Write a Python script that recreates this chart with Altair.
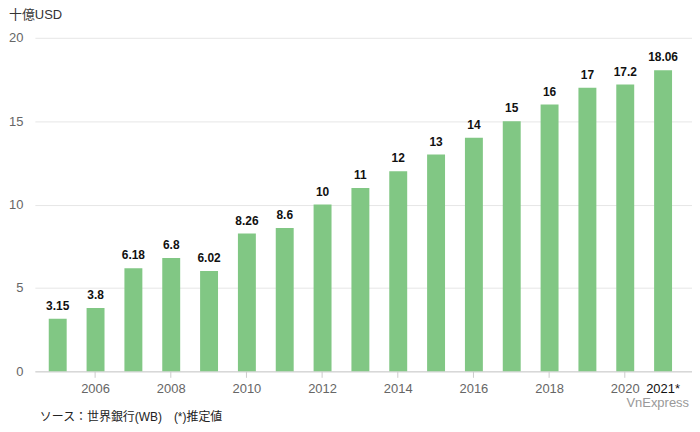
import altair as alt
import pandas as pd

years = [str(y) for y in range(2005, 2022)]
values = [3.15, 3.8, 6.18, 6.8, 6.02, 8.26, 8.6, 10, 11, 12, 13, 14, 15, 16, 17, 17.2, 18.06]
labels = ["3.15", "3.8", "6.18", "6.8", "6.02", "8.26", "8.6", "10", "11", "12", "13",
          "14", "15", "16", "17", "17.2", "18.06"]

df = pd.DataFrame({"year": years, "value": values, "label": labels})

FONT = "Liberation Sans, Arial, Noto Sans CJK JP, sans-serif"

x = alt.X(
    "year:N",
    sort=years,
    scale=alt.Scale(paddingInner=0.526, paddingOuter=0.447, align=0.41),
    axis=alt.Axis(
        title=None,
        labelAngle=0,
        labelExpr="datum.value == '2021' ? '2021*' : (toNumber(datum.value) % 2 == 0 ? datum.value : '')",
        labelColor={"condition": {"test": "datum.value == '2021'", "value": "#111"}, "value": "#666"},
        labelFontSize=13,
        labelFont=FONT,
        labelPadding=5,
        tickOpacity={"condition": {"test": "toNumber(datum.value) % 2 == 0", "value": 1}, "value": 0},
        tickColor="#ccc",
        tickSize=6,
        domainColor="#ccc",
        grid=False,
        labelOverlap=False,
    ),
)

y = alt.Y(
    "value:Q",
    scale=alt.Scale(domain=[0, 20]),
    axis=alt.Axis(
        title=None,
        values=[0, 5, 10, 15, 20],
        domain=False,
        ticks=False,
        labelColor="#666",
        labelFontSize=13,
        labelFont=FONT,
        labelPadding=12,
        gridColor="#e6e6e6",
    ),
)

base = alt.Chart(df)

bars = base.mark_bar(color="#81C784").encode(x=x, y=y)
text = base.mark_text(
    baseline="bottom", dy=-6, fontWeight="bold", fontSize=12, font=FONT, color="#111"
).encode(x=x, y=y, text="label:N")

unit = alt.Chart(pd.DataFrame({"t": ["十億USD"]})).mark_text(
    align="left", baseline="middle", fontSize=13, font=FONT, color="#333"
).encode(x=alt.value(-26), y=alt.value(-23), text="t:N")

src = alt.Chart(pd.DataFrame({"t": ["ソース：世界銀行(WB)　(*)推定値"]})).mark_text(
    align="left", baseline="middle", fontSize=12, font=FONT, color="#222"
).encode(x=alt.value(5), y=alt.value(381), text="t:N")

brand = alt.Chart(pd.DataFrame({"t": ["VnExpress"]})).mark_text(
    align="right", baseline="middle", fontSize=13, font=FONT, color="#999"
).encode(x=alt.value(657), y=alt.value(367), text="t:N")

chart = (
    alt.layer(bars, text, unit, src, brand)
    .properties(
        width=660,
        height=335,
        autosize=alt.AutoSizeParams(type="none"),
        padding={"left": 27, "top": 29, "right": 0, "bottom": 60},
    )
    .configure_view(stroke=None)
)

chart.save("out.html", embed_options={"renderer": "svg", "actions": False})
